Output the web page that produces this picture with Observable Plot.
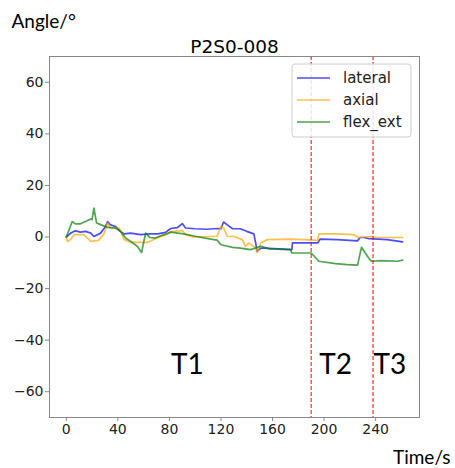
<!DOCTYPE html>
<html><head><meta charset="utf-8">
<script src="https://cdn.jsdelivr.net/npm/d3@7"></script>
<script src="https://cdn.jsdelivr.net/npm/@observablehq/plot@0.6"></script>
<style>body{margin:0;background:#fff}</style>
</head><body><div id="chart"></div>
<script>
const seriesNames = ["lateral", "axial", "flex_ext"];
const seriesColors = ["#0000ff", "#ffa500", "#008000"];

const lateralTime = [0,3.4,7,11,15,19,21.4,26.6,30.5,32,34,38,42,44.7,50,57.6,65,71,77,81,86,90,92.5,100,109,117,120,122,126,129,135,140,145.5,147,148,151,153,165,175,175.5,195,197,210,226,228,231,235,249,261];
const lateralAngle = [0,1.5,2.4,1.9,2.2,1.5,0.2,1.5,4.1,6,4.8,4.1,2.2,1.2,1.5,0.9,1.2,1.2,1.8,3.3,3.6,5.2,3.5,3.2,3.0,3.3,3.2,5.8,4.3,3.2,3.2,2.2,1.2,-2.5,-5.6,-4.3,-4.3,-4.6,-4.9,-2.3,-2.3,-0.8,-1.0,-1.5,-0.2,-0.2,-0.6,-1.0,-1.9];

const axialTime = [0,0.8,3.3,6,13.7,16,19,25,29,32,34,41,43.4,44.7,50,63,68,73,78,81,90,92.5,99,117,120,122,125,130,136.5,139,141.7,147,148,151,156,174,184,195,196,209,223,227,236,241,261];
const axialAngle = [0,-1.7,-1,0.9,0.9,-0.2,-1.7,-1.3,0.9,5.4,3.5,3.5,0.9,-1,-2.1,-2.1,-1,0.2,0.9,2.0,2.6,0.9,0,0.3,4.1,3.5,0.2,0.2,-1,-3.6,-2.3,-4.3,-6,-2.3,-1,-0.8,-1,-1.3,1.2,1.2,0.9,-0.2,0.2,-0.2,-0.2];

const flexTime = [0,4.6,7,11,19,20,21.4,23.5,26.6,32,38,42,46,50,55,58.4,61.5,65,69,75,81,91,100,110,117,120,129,135,139,143,151,158,174,175,190,196,209,218,226,229,235.5,237,244,257,261];
const flexAngle = [0,6,5.1,5.1,7,6.7,11.2,5.4,4.8,3.7,3.5,2.2,-0.4,-1.7,-3.6,-6,1.5,-0.2,-0.4,0.8,1.9,1.2,0.3,-0.6,-1.2,-3,-4,-4.3,-4.6,-4.9,-3.6,-4.6,-4.9,-6.2,-6.2,-9.4,-10.3,-10.7,-10.9,-4,-8.8,-9.4,-9.2,-9.4,-9];

const phaseBounds = [190, 238];
const phaseLabels = ["T1", "T2", "T3"];
const phaseLabelX = [94, 209, 251];
const phaseLabelY = -53.3;

const xTicks = [0, 40, 80, 120, 160, 200, 240];
const yTicks = [-60, -40, -20, 0, 20, 40, 60];

const seriesData = [
  lateralTime.map((t, i) => ({t, v: lateralAngle[i], s: seriesNames[0]})),
  axialTime.map((t, i) => ({t, v: axialAngle[i], s: seriesNames[1]})),
  flexTime.map((t, i) => ({t, v: flexAngle[i], s: seriesNames[2]}))
];
const phaseData = phaseLabels.map((l, i) => ({l, x: phaseLabelX[i], y: phaseLabelY}));

const W = 455, H = 468, mL = 49, mR = 36, mT = 56, mB = 51;
const fmt = d => d < 0 ? "\u2212" + Math.abs(d) : String(d);
const tickFont = "DejaVu Sans";

const plot = Plot.plot({
  width: W, height: H,
  marginLeft: mL, marginRight: mR, marginTop: mT, marginBottom: mB,
  style: {fontFamily: tickFont, fontSize: "14px", color: "#222", background: "#fff"},
  x: {domain: [-13.05, 274.05]},
  y: {domain: [-70, 70]},
  marks: [
    Plot.axisX({ticks: xTicks, tickFormat: fmt, tickSize: 4, tickPadding: 3, label: null, stroke: "#888"}),
    Plot.axisY({ticks: yTicks, tickFormat: fmt, tickSize: 4, tickPadding: 2, label: null, stroke: "#888"}),
    ...seriesData.map((d, i) => Plot.line(d, {x: "t", y: "v", stroke: seriesColors[i], strokeWidth: 1.7, strokeOpacity: 0.7})),
    Plot.ruleX(phaseBounds, {stroke: "red", strokeWidth: 1.2, strokeDasharray: "4,2", strokeOpacity: 0.85}),
    Plot.text(phaseData, {x: "x", y: "y", text: "l", fontSize: 28, fontFamily: "Lato", fill: "#000", lineAnchor: "bottom", textAnchor: "middle"}),
    Plot.frame({stroke: "#888", strokeWidth: 1}),
    Plot.text(["P2S0-008"], {frameAnchor: "top", dy: -4, lineAnchor: "bottom", fontSize: 18.5, fontFamily: tickFont, fill: "#000"}),
    Plot.text(["Angle/\u00b0"], {frameAnchor: "top-left", dx: -38, dy: -29, lineAnchor: "bottom", textAnchor: "start", fontSize: 19, fontFamily: "Lato", fill: "#000"}),
    Plot.text(["Time/s"], {frameAnchor: "bottom-right", dx: 31, dy: 46, lineAnchor: "bottom", textAnchor: "end", fontSize: 19, fontFamily: "Lato", fill: "#000"})
  ]
});

// legend
const svg = d3.select(plot);
const frameRight = W - mR, frameTop = mT;
const boxW = 119, boxH = 73;
const bx = frameRight - 8 - boxW, by = frameTop + 8;
const lg = svg.append("g");
lg.append("rect").attr("x", bx).attr("y", by).attr("width", boxW).attr("height", boxH)
  .attr("rx", 3).attr("fill", "#fff").attr("fill-opacity", 0.85).attr("stroke", "#ccc");
seriesNames.forEach((name, i) => {
  const yy = by + 14 + i * 22;
  lg.append("line").attr("x1", bx + 5).attr("x2", bx + 38).attr("y1", yy).attr("y2", yy)
    .attr("stroke", seriesColors[i]).attr("stroke-width", 1.5).attr("stroke-opacity", 0.7);
  lg.append("text").attr("x", bx + 51).attr("y", yy).attr("dy", "0.35em")
    .attr("text-anchor", "start")
    .attr("font-family", tickFont).attr("font-size", 15).attr("fill", "#222").text(name);
});

document.getElementById("chart").appendChild(plot);
</script></body></html>
